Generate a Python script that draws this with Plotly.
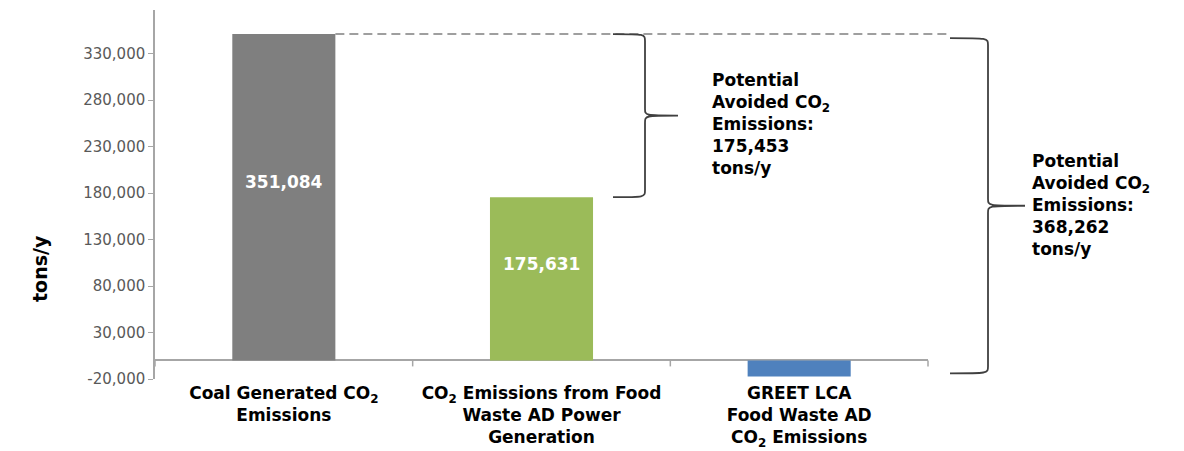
import plotly.graph_objects as go

# ---- data ----
categories = [
    "Coal Generated CO<sub>2</sub><br>Emissions",
    "CO<sub>2</sub> Emissions from Food<br>Waste AD Power<br>Generation",
    "GREET LCA<br>Food Waste AD<br>CO<sub>2</sub> Emissions",
]
values = [351084, 175631, -17178]
bar_labels = ["351,084", "175,631", ""]
bar_colors = ["#7f7f7f", "#9bbb59", "#4f81bd"]
avoided_1 = 175453
avoided_2 = 368262
y_ticks = [-20000, 30000, 80000, 130000, 180000, 230000, 280000, 330000]
y_tick_text = ["-20,000", "30,000", "80,000", "130,000", "180,000", "230,000", "280,000", "330,000"]

# ---- layout constants ----
W, H = 1184, 451
L, R, T, B = 155, 256, 10, 72
PW = W - L - R
PH = H - T - B
YMIN, YMAX = -20000, 377000
BAR_W = 0.4
N = len(categories)

def py(v):
    return (v - YMIN) / (YMAX - YMIN)

def px(p):
    return (p - L) / PW

def ppx_to_y(pixels):
    return pixels / PH

BOLD = "DejaVu Sans"

fig = go.Figure()
fig.add_trace(go.Bar(
    x=list(range(N)), y=values, width=BAR_W,
    marker=dict(color=bar_colors, line=dict(width=0)),
    hoverinfo="skip",
))

shapes = []
line_col = "#a6a6a6"
# tick marks on the zero line at category boundaries
for k in range(N + 1):
    shapes.append(dict(type="line", xref="paper", yref="paper",
                       x0=k / N, x1=k / N, y0=py(0), y1=py(0) - ppx_to_y(6),
                       line=dict(color=line_col, width=1.5)))

# dashed reference line from top of coal bar
top = values[0]
x_bar_right = (0 + 0.5 + BAR_W / 2) / N
shapes.append(dict(type="line", xref="paper", yref="paper",
                   x0=x_bar_right, x1=px(948), y0=py(top), y1=py(top),
                   line=dict(color="#808080", width=1.5, dash="9px,5px")))

def brace(xs, xv, xt, yt, yb, r_px=7):
    ym = (yt + yb) / 2
    r = ppx_to_y(r_px)
    p = (f"M {xs},{yt} C {xv},{yt} {xv},{yt} {xv},{yt - r} "
         f"L {xv},{ym + r} C {xv},{ym} {xv},{ym} {xt},{ym} "
         f"C {xv},{ym} {xv},{ym} {xv},{ym - r} "
         f"L {xv},{yb + r} C {xv},{yb} {xv},{yb} {xs},{yb}")
    return dict(type="path", xref="paper", yref="paper", path=p,
                line=dict(color="#404040", width=1.8))

shapes.append(brace(px(613), px(645), px(678), py(values[0]), py(values[1])))
shapes.append(brace(px(950), px(988), px(1025), py(values[0]) - ppx_to_y(4), py(values[2]) + ppx_to_y(3)))

annos = []
# bar value labels (slightly above bar centre, as in the reference)
for i, (v, lab) in enumerate(zip(values, bar_labels)):
    if lab:
        annos.append(dict(xref="x", yref="y", x=i, y=v / 2, yshift=15, showarrow=False,
                          text=lab, font=dict(family=BOLD, size=17, color="white", weight="bold")))

txt_font = dict(family=BOLD, size=17, color="black", weight="bold")
annos.append(dict(xref="paper", yref="paper", x=px(710), y=py((values[0] + values[1]) / 2) - ppx_to_y(8),
                  xanchor="left", yanchor="middle", align="left", showarrow=False,
                  text=f"Potential<br>Avoided CO<sub>2</sub><br>Emissions:<br>{avoided_1:,}<br>tons/y",
                  font=txt_font))
annos.append(dict(xref="paper", yref="paper", x=px(1030), y=py((values[0] + values[2]) / 2),
                  xanchor="left", yanchor="middle", align="left", showarrow=False,
                  text=f"Potential<br>Avoided CO<sub>2</sub><br>Emissions:<br>{avoided_2:,}<br>tons/y",
                  font=txt_font))
annos.append(dict(xref="paper", yref="paper", x=-(L - 40) / PW, y=1 - (268 - T) / PH,
                  xanchor="center", yanchor="middle", showarrow=False, textangle=-90,
                  text="tons/y", font=dict(family=BOLD, size=19, color="black", weight="bold")))

fig.update_layout(
    width=W, height=H, margin=dict(l=L, r=R, t=T, b=B, autoexpand=False),
    paper_bgcolor="white", plot_bgcolor="white",
    showlegend=False, shapes=shapes, annotations=annos,
    xaxis=dict(tickmode="array", tickvals=list(range(N)), ticktext=categories,
               range=[-0.5, N - 0.5], showline=False, showgrid=False, zeroline=False,
               automargin=False, ticklabelstandoff=2,
               ticks="", tickfont=dict(family=BOLD, size=17, color="black", weight="bold")),
    yaxis=dict(range=[YMIN, YMAX], tickmode="array", tickvals=y_ticks, ticktext=y_tick_text,
               automargin=False,
               showline=True, linecolor=line_col, linewidth=1.5, ticks="outside", ticklen=5,
               tickcolor=line_col, showgrid=False, zeroline=True, zerolinecolor=line_col,
               zerolinewidth=1.5,
               tickfont=dict(family="DejaVu Sans", size=15, color="#595959")),
)

fig.write_html("out.html")
